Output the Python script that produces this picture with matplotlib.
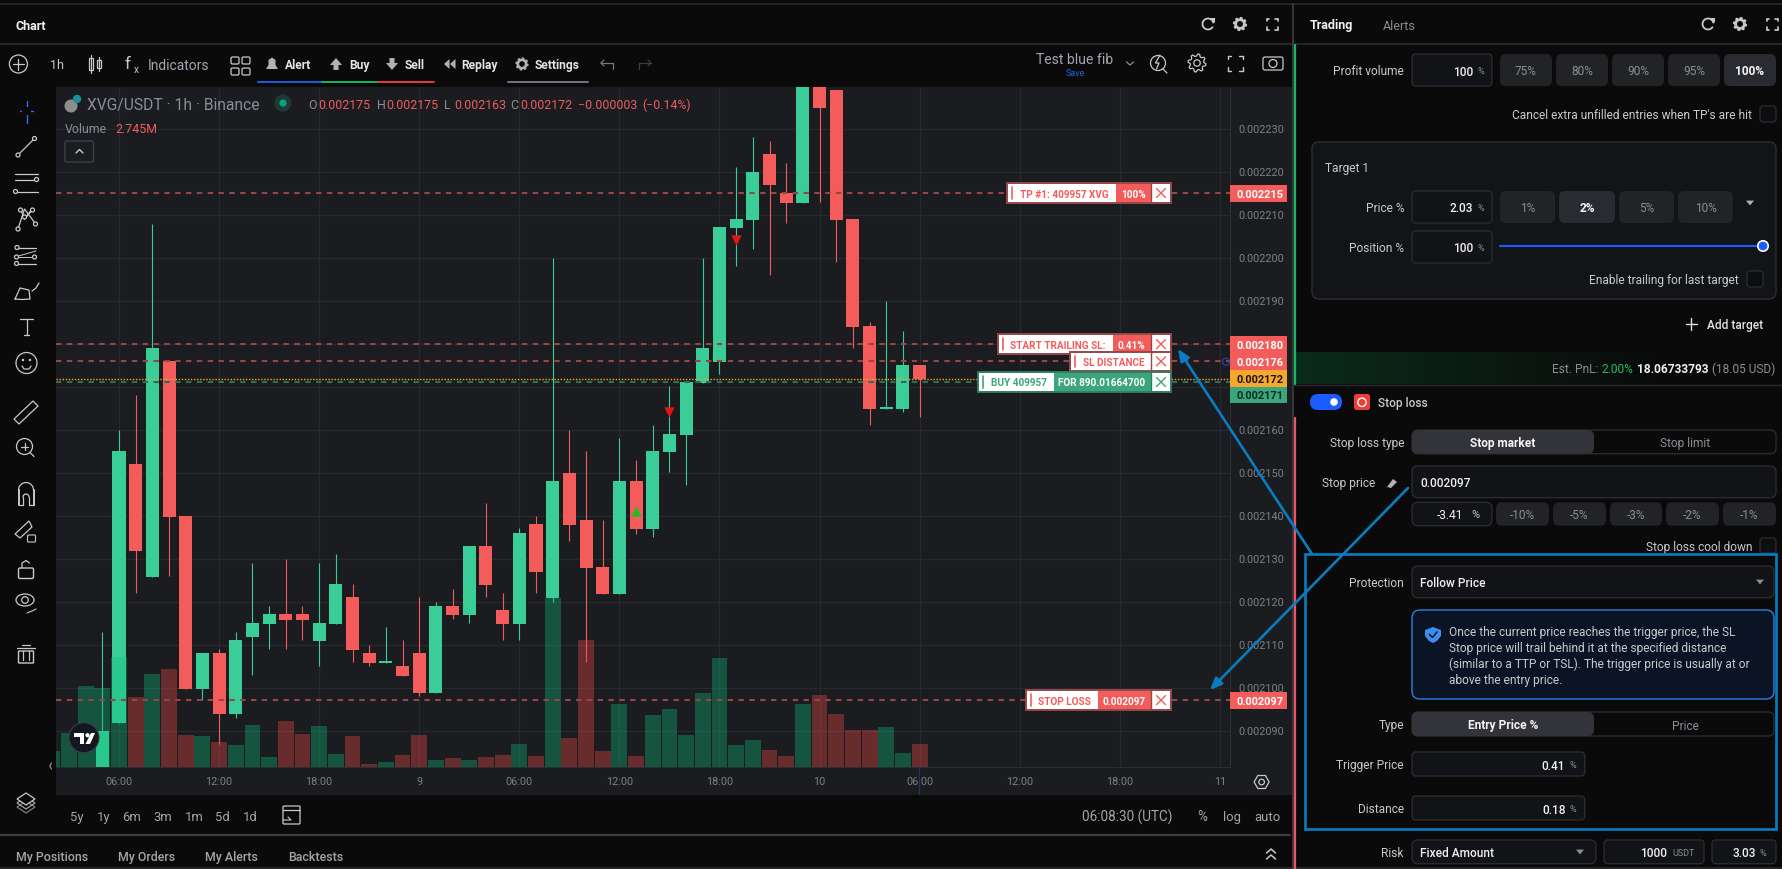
import numpy as np
import matplotlib
matplotlib.use("Agg")
import matplotlib.pyplot as plt
from matplotlib.patches import Rectangle, FancyBboxPatch, Circle, Polygon, Ellipse

plt.rcParams['font.family'] = ['Roboto', 'DejaVu Sans']

W, H = 1782, 869

# prices are in millionths, hours are counted from 06:00 on the 8th
candle_hours = list(range(-1, 49))
opens = [2080, 2092, 2152.2, 2126, 2176.1, 2140, 2099.9, 2108.2, 2094.1, 2112, 2115, 2117.3, 2117.3, 2111, 2115,
         2121.2, 2108.2, 2106, 2105.2, 2108.2, 2098.9, 2119.1, 2117, 2133.1, 2118.2, 2115, 2138.2, 2121, 2150.1,
         2139.1, 2128.2, 2121.9, 2148.2, 2137, 2155, 2159, 2171, 2175.9, 2207, 2208.9, 2224.3, 2215.3, 2212.9,
         2250, 2239.1, 2209.1, 2184.3, 2165, 2165, 2175.2]
highs = [2113.1, 2160.1, 2168.2, 2208.1, 2176.1, 2140, 2108.2, 2109.1, 2113.1, 2129.1, 2119.1, 2130.1, 2119.1,
         2129.1, 2131.2, 2124.3, 2110.1, 2114.3, 2111.2, 2121.2, 2120, 2123.1, 2133.1, 2143.1, 2122.2, 2137.3,
         2140, 2200.1, 2160.1, 2155.2, 2139.1, 2158.2, 2153.1, 2161.2, 2170.2, 2171.2, 2200.1, 2207.3, 2221.2,
         2228.2, 2227.3, 2222.2, 2250, 2255, 2239.1, 2209.1, 2185.2, 2190.1, 2183.1, 2175.2]
lows = [2080, 2092, 2122.2, 2126, 2126.2, 2099.9, 2097.3, 2087, 2093.2, 2103.2, 2109.1, 2109.1, 2111.2, 2105.2,
        2115, 2106.2, 2105.2, 2106, 2102.9, 2098.2, 2098.9, 2116.1, 2115.2, 2121.2, 2111.2, 2111.2, 2122.2,
        2120.1, 2134.3, 2106.1, 2121.9, 2121.9, 2135.9, 2135.3, 2150.2, 2147.3, 2171, 2173.1, 2198.2, 2202.2,
        2196.1, 2208.2, 2212.9, 2213.1, 2199.1, 2179.1, 2161.2, 2165, 2164.3, 2163.1]
closes = [2090.1, 2155.2, 2132, 2179.1, 2139.9, 2099.9, 2108.2, 2094.1, 2111.2, 2115.2, 2117.3, 2116, 2116, 2115.2,
          2124.3, 2108.9, 2105.9, 2106.4, 2102.9, 2098.9, 2119.1, 2117, 2133.1, 2124, 2115, 2136.1, 2127, 2148.2,
          2138, 2128, 2121.9, 2148.2, 2137, 2155.2, 2159.1, 2171.2, 2179.1, 2207.3, 2209.1, 2220.1, 2217, 2212.9,
          2245, 2235, 2208.9, 2184, 2165, 2165.4, 2175.2, 2172]
# first bars are cut off on the left, volume starts a bit earlier
vol_hours = list(range(-4, 49))
volumes = [1.92, 4.0, 9.57, 9.29, 13.02, 8.27, 10.98, 11.57, 3.8, 3.69, 2.98, 2.63, 4.98, 1.22, 5.45, 3.92, 4.86,
           1.57, 3.69, 0.39, 0.63, 1.45, 3.8, 0.86, 1.1, 0.86, 1.22, 1.45, 2.75, 1.33, 19.92, 3.45, 14.98, 1.92,
           7.45, 1.33, 6.16, 6.86, 3.8, 8.74, 12.86, 2.63, 3.21, 2.04, 1.33, 7.45, 8.51, 6.27, 4.39, 4.39, 4.74,
           1.69, 2.745]
vol_up = [True] * 3 + [c >= o for o, c in zip(opens, closes)]

price_ticks = [2090, 2100, 2110, 2120, 2130, 2140, 2150, 2160, 2170, 2180, 2190, 2200, 2210, 2220, 2230]
time_ticks = [0, 6, 12, 18, 24, 30, 36, 42, 48, 54, 60, 66]
time_labels = ['06:00', '12:00', '18:00', '9', '06:00', '12:00', '18:00', '10', '06:00', '12:00', '18:00', '11']

level_red = [2215.2, 2180.1, 2176.1, 2097.3]
level_entry = 2171.2
level_last = 2172.0
sell_marks_x, sell_marks_y = [33, 37], [2164.3, 2204.3]
buy_marks_x, buy_marks_y = [31], [2141.3]

range_btns = ['5y', '1y', '6m', '3m', '1m', '5d', '1d']
range_x = [70, 96.7, 122.4, 153.5, 184.5, 215.5, 243]
tab_names = ['My Positions', 'My Orders', 'My Alerts', 'Backtests']
tab_x = [16, 118, 205, 288.6]

BG = '#0a0a0b'
PANE = '#1a1c20'
GRID = '#25282e'
UP = '#3acd97'
DOWN = '#f45c5c'
LINE_RED = '#964649'
ARROW = '#0a7dc2'
GRAY = '#8b8e95'
LIGHT = '#c9cacd'
SZ = 11.9

fig = plt.figure(figsize=(W / 100, H / 100), dpi=100, facecolor=BG)


def px_rect(x0, y0, x1, y1):
    return [x0 / W, 1 - y1 / H, (x1 - x0) / W, (y1 - y0) / H]


bg = fig.add_axes([0, 0, 1, 1], zorder=0)
bg.set_xlim(0, W)
bg.set_ylim(H, 0)
bg.axis('off')
bg.add_patch(Rectangle((56, 87), 1236, 708, fc=PANE, ec='none'))

# chart pane, scales come from where the ticks sit in the picture
px_per_hour = 16.68
px_per_unit = 4.3
pane = (56, 87, 1230, 767.33)
ax = fig.add_axes(px_rect(*pane), zorder=1)
ax.set_facecolor(PANE)
ax.set_xlim((pane[0] - 119) / px_per_hour, (pane[2] - 119) / px_per_hour)
ax.set_ylim(2230 - (pane[3] - 129.33) / px_per_unit, 2230 + (129.33 - pane[1]) / px_per_unit)

# volume sits on top of the candles
vol = ax.twinx()
vol.set_zorder(ax.get_zorder() + 1)
vol.patch.set_visible(False)
vol.set_ylim(0, (pane[3] - pane[1]) / 8.5)
vol.set_yticks([])
for side in vol.spines:
    vol.spines[side].set_visible(False)

# twinx moves the ticks to the left, so set them after it
ax.yaxis.tick_right()
ax.set_yticks(price_ticks)
ax.set_yticklabels([f'{p / 1e6:.6f}' for p in price_ticks])
ax.set_xticks(time_ticks)
ax.set_xticklabels(time_labels)
ax.tick_params(axis='both', length=0, labelcolor='#7d8087', labelsize=7.8)
ax.tick_params(axis='x', pad=7)
ax.tick_params(axis='y', pad=6)
ax.grid(True, color=GRID, lw=1)
ax.set_axisbelow(True)
for side in ax.spines:
    ax.spines[side].set_visible(False)
ax.spines['right'].set_visible(True)
ax.spines['right'].set_color('#2b2e34')
ax.spines['bottom'].set_visible(True)
ax.spines['bottom'].set_color('#2b2e34')

candle_colors = [UP if c >= o else DOWN for o, c in zip(opens, closes)]
ax.vlines(candle_hours, lows, highs, colors=candle_colors, lw=0.8, zorder=3)
ax.bar(candle_hours, np.abs(np.array(closes) - np.array(opens)), bottom=np.minimum(opens, closes),
       width=0.78, color=candle_colors, zorder=4)
ax.scatter(sell_marks_x, sell_marks_y, marker='v', s=55, color='#e61414', zorder=5, linewidths=0)
ax.scatter(buy_marks_x, buy_marks_y, marker='^', s=55, color='#1fbf1f', zorder=5, linewidths=0)

vol.bar(vol_hours, volumes, width=0.95, alpha=0.35,
        color=['#0cbf79' if u else '#ff4a48' for u in vol_up], zorder=2)
ytrans = ax.get_yaxis_transform()
for lev in level_red:
    vol.plot([0, 1], [lev, lev], transform=ytrans, color=LINE_RED, lw=1.5, ls=(0, (2.6, 2.6)), zorder=3)
vol.plot([0, 1], [level_entry, level_entry], transform=ytrans, color='#2d6e57', lw=1.5, ls=(0, (2.6, 2.6)), zorder=3)
vol.plot([0, 1], [level_last, level_last], transform=ytrans, color='#f7a823', lw=1, ls=(0, (1, 1.2)), zorder=3)

# everything else is drawn in pixels on top
ui = fig.add_axes([0, 0, 1, 1], zorder=5)
ui.set_xlim(0, W)
ui.set_ylim(H, 0)
ui.axis('off')
ui.patch.set_visible(False)


def box(x0, y0, x1, y1, fc=BG, ec='none', r=4, lw=1, z=2):
    if r:
        p = FancyBboxPatch((x0 + r, y0 + r), x1 - x0 - 2 * r, y1 - y0 - 2 * r, boxstyle=f'round,pad={r},rounding_size={r}',
                           fc=fc, ec=ec, lw=lw, zorder=z)
    else:
        p = Rectangle((x0, y0), x1 - x0, y1 - y0, fc=fc, ec=ec, lw=lw, zorder=z)
    ui.add_patch(p)


def txt(x, y, s, c=LIGHT, size=12.5, ha='left', w='normal', z=6):
    ui.text(x, y, s, color=c, fontsize=size * 0.72, ha=ha, va='center_baseline', fontweight=w, zorder=z)


def seg(xs, ys, c='#c8c9cc', lw=0.9, z=5):
    ui.plot(xs, ys, color=c, lw=lw, zorder=z, solid_capstyle='round')


def ring(x, y, r, c='#c8c9cc', lw=0.9, fc='none', z=5):
    ui.add_patch(Circle((x, y), r, fc=fc, ec=c, lw=lw, zorder=z))


def tri_down(x, y, s=4, c=GRAY):
    ui.add_patch(Polygon([[x - s, y - s * 0.6], [x + s, y - s * 0.6], [x, y + s * 0.6]], fc=c, ec='none', zorder=5))


def corners(x, y, s, c='#c8c9cc', lw=1.2, gap=0.45):
    for dx in (-1, 1):
        for dy in (-1, 1):
            seg([x + dx * s, x + dx * s], [y + dy * s, y + dy * s * (1 - gap)], c, lw)
            seg([x + dx * s, x + dx * s * (1 - gap)], [y + dy * s, y + dy * s], c, lw)


def gear(x, y, r, c='#c8c9cc', solid=True):
    # eight teeth, outer and inner radius alternate
    ang = np.linspace(0, 2 * np.pi, 33)[:-1] + np.pi / 32
    rad = np.where(np.arange(32) % 4 < 2, r, r * 0.76)
    ui.add_patch(Polygon(np.c_[x + rad * np.cos(ang), y + rad * np.sin(ang)], closed=True, fc=c if solid else 'none',
                         ec=c, lw=0.9, zorder=5))
    ring(x, y, r * 0.36, BG if solid else c, 0.9, fc=BG if solid else 'none')


def refresh(x, y):
    t = np.linspace(0.25, 1.8 * np.pi, 30)
    seg(x + 5.5 * np.cos(t), y + 5.5 * np.sin(-t), '#c8c9cc', 1.3)
    ui.add_patch(Polygon([[x + 1.5, y - 6.5], [x + 6.5, y - 6.5], [x + 6.5, y - 1.5]], fc='#c8c9cc', ec='none', zorder=5))


# window frame lines
seg([0, W], [4.3, 4.3], '#2a2a2e', 1.2)
seg([0, W], [44.3, 44.3], '#2c2c30', 1.2)
seg([0, 1290], [835, 835], '#3b3b42', 1.6)
seg([0, W], [868, 868], '#2c2c30', 1.2)
seg([1293, 1293], [4, 869], '#37373c', 1.4)
seg([1295, 1295], [45, 385], '#16b85f', 1.6)
seg([1295, 1295], [418, 869], '#ee5468', 1.6)
seg([1293, W], [385, 385], '#2c2c30', 1)

# title row
txt(16, 24.5, 'Chart', '#f2f2f2', 12.5, w='bold')
refresh(1208, 24)
gear(1240, 24, 6.5)
corners(1272, 24, 5.5)
txt(1310, 24.5, 'Trading', '#f2f2f2', 12.5, w='bold')
txt(1383, 24.5, 'Alerts', GRAY, 12.5)
refresh(1708, 24)
gear(1740, 24, 6.5)
corners(1772, 24, 5.5)

# chart toolbar
ring(18.4, 64, 9)
seg([13, 24], [64, 64])
seg([18.4, 18.4], [58.5, 69.5])
txt(50, 64, '1h', '#c8c9cc', 12.5)
ui.add_patch(Rectangle((88.5, 58), 4, 12, fc='none', ec='#c8c9cc', lw=0.9, zorder=5))
ui.add_patch(Rectangle((97, 60), 3.5, 8, fc='none', ec='#c8c9cc', lw=0.9, zorder=5))
seg([90.5, 90.5], [55, 73])
seg([98.7, 98.7], [57, 71])
txt(125, 63, 'f', '#c8c9cc', 17, w='normal')
txt(134, 69, 'x', '#c8c9cc', 10)
txt(148, 64.5, 'Indicators', '#a2a6b0', 13.8)
for gx in (231, 242):
    for gy in (57, 68):
        box(gx, gy, gx + 8, gy + 7, fc='none', ec='#c8c9cc', r=1.5, lw=0.9, z=5)
ui.add_patch(Polygon([[266, 69], [278, 69], [275.5, 65], [275.5, 60], [272, 57.5], [268.5, 60], [268.5, 65]],
                     fc='#b0b2b7', ec='none', zorder=5))
txt(285, 64, 'Alert', '#e4e4e6', 12, w='bold')
ui.add_patch(Polygon([[336, 58], [342, 65], [338.5, 65], [338.5, 70], [333.5, 70], [333.5, 65], [330, 65]],
                     fc='#b0b2b7', ec='none', zorder=5))
txt(349, 64, 'Buy', '#e4e4e6', 12, w='bold')
ui.add_patch(Polygon([[392, 70], [398, 63], [394.5, 63], [394.5, 58], [389.5, 58], [389.5, 63], [386, 63]],
                     fc='#b0b2b7', ec='none', zorder=5))
txt(405, 64, 'Sell', '#e4e4e6', 12, w='bold')
ui.add_patch(Polygon([[444, 64], [449.5, 59], [449.5, 69]], fc='#b0b2b7', ec='none', zorder=5))
ui.add_patch(Polygon([[450, 64], [455.5, 59], [455.5, 69]], fc='#b0b2b7', ec='none', zorder=5))
txt(461.6, 64, 'Replay', '#e4e4e6', 12, w='bold')
gear(522, 64, 6, '#b0b2b7')
txt(535, 64, 'Settings', '#e4e4e6', 12, w='bold')
seg([258, 322], [82, 82], '#1a5fe0', 1.4)
seg([322, 378], [82, 82], '#12b866', 1.4)
seg([378, 434], [82, 82], '#e83a3a', 1.4)
seg([508, 588], [82, 82], '#77777c', 1.4)
seg([601, 613, 613], [63, 63, 69], '#77777c', 0.9)
seg([601, 604], [63, 60], '#77777c', 0.9)
seg([601, 604], [63, 66], '#77777c', 0.9)
seg([651, 639, 639], [63, 63, 69], '#3f3f43', 0.9)
seg([651, 648], [63, 60], '#3f3f43', 0.9)
seg([651, 648], [63, 66], '#3f3f43', 0.9)
txt(1075, 59, 'Test blue fib', '#a2a6ae', 14, ha='center')
txt(1075, 72, 'Save', '#2262e6', 9, ha='center')
seg([1126.5, 1130, 1133.5], [62, 65, 62], GRAY, 0.9)
ring(1158, 63, 7.5)
seg([1163, 1167], [69, 73])
seg([1160, 1155.5, 1159, 1156.5], [55, 63, 63, 69], lw=0.9, z=6)
gear(1197, 63, 9, '#c8c9cc', solid=False)
corners(1235, 63, 7.5, lw=1)
box(1263, 57, 1283, 70, fc='none', ec='#c8c9cc', r=2, lw=0.9, z=5)
ring(1273, 63.5, 4)

# left drawing tools
seg([20, 33], [111, 111], '#2f6bff', 1)
seg([26.5, 26.5], [100.5, 122.5], '#2f6bff', 1)
ui.add_patch(Rectangle((22, 107), 9, 8, fc=BG, ec='none', zorder=5.5))
seg([18, 34.5], [155, 138.5])
ring(18, 155, 2, fc=BG, z=6)
ring(34.5, 138.5, 2, fc=BG, z=6)
for yy in (173.5, 179.5, 191.5):
    seg([15, 37.5], [yy, yy])
ring(36.5, 179.5, 2, fc=BG, z=6)
ring(15.5, 191.5, 2, fc=BG, z=6)
seg([18, 24.5, 32, 35.5], [229, 209, 219, 224])
seg([21, 24.5, 32.5, 24.5], [210, 219, 209, 219])
for px, py in [(18, 229), (20.5, 210), (24.5, 217), (32.5, 210), (35.5, 224)]:
    ring(px, py, 2, fc=BG, z=6)
for yy in (247.5, 263.5):
    seg([15, 36], [yy, yy])
seg([15, 36], [257, 251], lw=0.7)
seg([15, 36], [257, 257], lw=0.7)
for px, py in [(17, 247.5), (16.5, 257), (34.5, 257), (16.5, 263.5)]:
    ring(px, py, 2, fc=BG, z=6)
seg([15, 20, 29, 30, 22, 15], [299, 288, 290, 299, 299.5, 299])
seg([32, 36, 39], [291, 288, 283])
seg([20, 33], [319, 319])
seg([26.5, 26.5], [319, 335])
seg([24, 29], [335, 335])
ring(26.5, 363, 10.5)
seg([22, 24, 29, 31], [366, 369, 369, 366])
ring(23, 360, 0.6, fc='#c8c9cc')
ring(30, 360, 0.6, fc='#c8c9cc')
ui.add_patch(Polygon([[14, 419], [33, 401], [38, 406], [19, 424]], fc='none', ec='#c8c9cc', lw=0.9, zorder=5))
ring(24.5, 446.5, 8)
seg([30, 34], [452.5, 456.5])
seg([21, 28], [446.5, 446.5])
seg([24.5, 24.5], [443, 450])
seg([18.5, 18.5], [504.5, 490], lw=1.4)
seg([33.5, 33.5], [504.5, 490], lw=1.4)
t_m = np.linspace(0, np.pi, 15)
seg(26 + 7.5 * np.cos(t_m), 490 - 7.5 * np.sin(t_m), lw=0.9)
seg(26 + 3 * np.cos(t_m), 497 - 3 * np.sin(t_m), lw=0.9)
seg([18.5, 23, 23], [504.5, 504.5, 497], lw=0.9)
seg([33.5, 29, 29], [504.5, 504.5, 497], lw=0.9)
ui.add_patch(Polygon([[15, 534], [29, 521], [32, 527], [20, 538]], fc='none', ec='#c8c9cc', lw=0.9, zorder=5))
box(27.5, 535, 35.5, 542, fc='none', ec='#c8c9cc', r=1, lw=0.8, z=5)
box(18.5, 568, 33.5, 578.5, fc='none', ec='#c8c9cc', r=1.5, z=5)
seg([22, 22, 26, 29.5], [568, 563, 560.5, 563])
ui.add_patch(Ellipse((25, 600), 18, 12, fc='none', ec='#c8c9cc', lw=0.9, zorder=5))
ring(25, 600, 3.3)
seg([27, 32, 36], [613, 611, 609], lw=0.8)
box(18.5, 651, 33.5, 663, fc='none', ec='#c8c9cc', r=0.8, z=5)
seg([17, 35], [647.5, 647.5])
seg([22, 30], [645, 645])
seg([23, 23], [651, 660])
seg([28.5, 28.5], [651, 660])
for dy, al in zip((808, 804, 800), (0.6, 0.8, 1)):
    ui.add_patch(Polygon([[17, dy - 1], [26, dy - 7], [35, dy - 1], [26, dy + 5]], fc=BG if dy == 800 else 'none',
                         ec='#c8c9cc', lw=0.9, alpha=al, zorder=5))

# legend on top of the pane
ring(71, 106, 6.5, '#9a9a9a', 0, fc='#8e8e8e')
ring(77, 99, 4.2, '#1c8fa0', 0, fc='#1c8fa0')
txt(87, 104, 'XVG/USDT · 1h · Binance', '#8b8e97', 15.6)
ring(283, 103, 8.5, '#1f3a36', 0, fc='#1f3a36')
ring(283, 103, 3.6, '#0aa283', 0, fc='#0aa283')
ohlc_x = [308, 376.5, 444, 510]
ohlc_v = ['0.002175', '0.002175', '0.002163', '0.002172']
for ox, name, val in zip(ohlc_x, 'OHLC', ohlc_v):
    txt(ox, 104, name, '#8b8e97', 12.4)
    txt(ox + 10, 104, val, '#ef5c5e', 12.4)
txt(578.4, 104, '\u22120.000003', '#ef5c5e', 12.4)
txt(642, 104, '(\u22120.14%)', '#ef5c5e', 12.4)
txt(65, 127.7, 'Volume', '#8b8e97', 12.4)
txt(115.5, 127.7, '2.745M', '#ef5c5e', 12.4)
box(65, 141, 93.5, 162, fc=PANE, ec='#3c3f46', r=2)
seg([76, 79.5, 83], [153, 149.5, 153], '#c8c9cc', 1)

# tradingview badge
ring(84, 737.7, 15, '#3a3d46', 0.8, fc='#131722')
ui.add_patch(Polygon([[74, 733], [84, 733], [84, 744], [79.5, 744], [79.5, 737], [74, 737]], fc='white', ec='none', zorder=6))
ring(87.5, 735.2, 2.1, 'white', 0, fc='white', z=6)
ui.add_patch(Polygon([[91, 733], [95, 733], [90, 744], [85.5, 744]], fc='white', ec='none', zorder=6))
seg([51.5, 49.7, 51.5], [763, 766, 769], GRAY, 0.9)

# price scale tags
tags = [(185, 201.7, DOWN, 'white', '0.002215'), (336, 353, DOWN, 'white', '0.002180'),
        (353, 370, DOWN, 'white', '0.002176'), (370, 386.7, '#f5a72e', '#1a1410', '0.002172'),
        (386.7, 402.7, '#3ba67c', '#0b2a1e', '0.002171'), (692, 708.7, DOWN, 'white', '0.002097')]
for y0, y1, fc, tc, s in tags:
    box(1230, y0, 1287, y1, fc=fc, r=0)
    txt(1260, (y0 + y1) / 2 + 0.5, s, tc, 11, ha='center', w='bold')
ring(1226, 361.7, 3.5, '#2244aa', 0.9)
seg([919, 919], [768, 794], '#29335c', 0.9)

# order labels on the chart
order_tags = [
    (182.7, 203.3, 1006.6, 1116, 'TP #1: 409957 XVG', 1064, '100%', 1133, DOWN, LINE_RED),
    (334, 354.3, 997.7, 1113, 'START TRAILING SL:', 1058, '0.41%', 1131.6, DOWN, LINE_RED),
    (351.7, 371, 1069.7, 1151, 'SL DISTANCE', 1113.5, '', 0, DOWN, LINE_RED),
    (372, 392, 977.5, 1054, 'BUY 409957', 1018.8, 'FOR 890.01664700', 1102, '#3ba67c', '#2f7d60'),
    (690, 710.3, 1025.5, 1097.5, 'STOP LOSS', 1064.7, '0.002097', 1124, DOWN, LINE_RED),
]
for y0, y1, x0, xm, label, lx, val, vx, col, edge in order_tags:
    box(x0, y0, 1171, y1, fc='white', ec=edge, r=0, lw=1.4, z=7)
    if val:
        box(xm, y0 + 1, 1151, y1 - 1, fc=col, r=0, z=7)
    seg([x0 + 5, x0 + 5], [y0 + 4, y1 - 4], col, 1.2, z=8)
    seg([1151, 1151], [y0, y1], edge, 1, z=8)
    seg([1156.5, 1165.5], [(y0 + y1) / 2 - 4.5, (y0 + y1) / 2 + 4.5], col, 1, z=8)
    seg([1156.5, 1165.5], [(y0 + y1) / 2 + 4.5, (y0 + y1) / 2 - 4.5], col, 1, z=8)
    txt(lx, (y0 + y1) / 2 + 0.5, label, col, 10, ha='center', w='bold', z=9)
    if val:
        txt(vx, (y0 + y1) / 2 + 0.5, val, 'white', 10, ha='center', w='bold', z=9)

# bottom of the chart
for s, rx in zip(range_btns, range_x):
    txt(rx, 815.7, s, '#a2a6b0', 13)
box(283, 806, 300, 824, fc='none', ec='#c8c9cc', r=1, lw=0.9, z=5)
seg([283, 300], [810, 810], lw=0.9)
seg([283, 291, 288], [820, 820, 817], lw=0.8)
txt(1081.5, 815.7, '06:08:30 (UTC)', '#a2a6b0', 13.5)
txt(1197.7, 815.7, '%', '#a2a6b0', 13.5)
txt(1223, 815.7, 'log', '#a2a6b0', 13)
txt(1254, 815.7, 'auto', '#a2a6b0', 13)
ang = np.linspace(0, 2 * np.pi, 7)[:-1] + np.pi / 6
ui.add_patch(Polygon(np.c_[1261.6 + 7.5 * np.cos(ang + np.pi / 6), 782 + 7.5 * np.sin(ang + np.pi / 6)], fc='none',
                     ec='#c8c9cc', lw=0.9, zorder=5))
ring(1261.6, 782, 2.8)
for s, tx in zip(tab_names, tab_x):
    txt(tx, 855.7, s, '#a4a6ab', 12.4, w='medium')
seg([1266.5, 1271, 1275.5], [853, 849, 853], '#c8c9cc', 1.1)
seg([1266.5, 1271, 1275.5], [859, 855, 859], '#c8c9cc', 1.1)

# right panel: targets
INPUT = '#121317'
EDGE = '#2a2b30'
BTN = '#222327'


def field(x0, y0, x1, y1, val, vx, unit='%', ux=None):
    box(x0, y0, x1, y1, fc=INPUT, ec=EDGE)
    txt(vx, (y0 + y1) / 2 + 0.5, val, '#f0f0f0', SZ, ha='right', w='medium')
    if unit:
        txt(ux if ux else vx + 4, (y0 + y1) / 2 + 0.5, unit, GRAY, 9)


def check(x0, y0, x1, y1):
    box(x0, y0, x1, y1, fc='#0d0e10', ec='#2a2b30', r=3)


txt(1404, 69.7, 'Profit volume', LIGHT, SZ, ha='right')
field(1412, 54, 1492, 86, '100', 1473)
for (x0, x1), s in zip([(1500, 1552), (1556, 1608), (1612, 1664), (1668, 1720), (1724, 1776)],
                       ['75%', '80%', '90%', '95%', '100%']):
    on = s == '100%'
    box(x0, 54, x1, 86, fc='#2a2b30' if on else BTN, r=6)
    txt((x0 + x1) / 2, 70, s, '#f5f5f5' if on else GRAY, SZ, ha='center', w='bold' if on else 'normal')
txt(1752, 113.7, "Cancel extra unfilled entries when TP's are hit", LIGHT, SZ, ha='right')
check(1760, 106, 1776, 122)

box(1312, 142, 1776, 299, fc='#131418', ec='#2d2e33', r=7)
txt(1325, 166.7, 'Target 1', LIGHT, SZ)
txt(1404, 206.7, 'Price %', LIGHT, SZ, ha='right')
field(1412, 191, 1492, 223, '2.03', 1473)
for (x0, x1), s in zip([(1500, 1555), (1559, 1615), (1619, 1674), (1678, 1733)], ['1%', '2%', '5%', '10%']):
    on = s == '2%'
    box(x0, 191, x1, 223, fc='#2a2b30' if on else BTN, r=6)
    txt((x0 + x1) / 2, 207, s, '#f5f5f5' if on else GRAY, SZ, ha='center', w='bold' if on else 'normal')
tri_down(1750, 203, 4, '#b0b2b7')
txt(1404, 246.7, 'Position %', LIGHT, SZ, ha='right')
field(1412, 231, 1492, 263, '100', 1473)
seg([1500, 1763], [246, 246], '#1a5cff', 1.5)
ring(1763, 246, 5.2, 'white', 1.2, fc='#1a5cff')
txt(1739, 278.7, 'Enable trailing for last target', LIGHT, SZ, ha='right')
check(1747, 271, 1763, 287)
seg([1691, 1691], [318, 329.5], '#e0e0e0', 1)
seg([1685.5, 1696.5], [323.7, 323.7], '#e0e0e0', 1)
txt(1707, 323.7, 'Add target', '#e4e4e6', SZ, w='medium')

# green fade under the targets
fade = np.zeros((1, 200, 4))
fade[..., :3] = (0.04, 0.17, 0.10)
fade[..., 3] = np.clip(np.linspace(1, -0.3, 200), 0, 1)
ui.imshow(fade, extent=(1296, 1776, 384, 352), aspect='auto', zorder=1)
ui.set_xlim(0, W)
ui.set_ylim(H, 0)
txt(1552, 367.7, 'Est. PnL:', GRAY, SZ)
txt(1602, 367.7, '2.00%', '#1ec25f', SZ)
txt(1637, 367.7, '18.06733793', '#f0f0f0', SZ, w='bold')
txt(1712, 367.7, '(18.05 USD)', GRAY, SZ)

# right panel: stop loss
box(1310, 394, 1342, 410, fc='#1a5cff', r=8)
ring(1334, 402, 3.8, 'white', 0, fc='white', z=6)
box(1354, 394, 1370, 410, fc='#ee3d3d', r=2.5)
ring(1362, 402.3, 4.2, 'white', 1, z=6)
txt(1378, 401.7, 'Stop loss', LIGHT, SZ, w='medium')


def toggle(y0, y1, left, right):
    box(1412, y0, 1776 if y1 < 500 else 1774, y1, fc=BG, ec=EDGE, r=6)
    box(1412, y0, 1594, y1, fc='#33343a', r=6)
    txt(1503, (y0 + y1) / 2 + 0.5, left, '#f5f5f5', SZ, ha='center', w='bold')
    txt(1685, (y0 + y1) / 2 + 0.5, right, GRAY, SZ, ha='center')


txt(1404, 441.7, 'Stop loss type', LIGHT, SZ, ha='right')
toggle(430, 453.7, 'Stop market', 'Stop limit')
txt(1322, 481.7, 'Stop price', LIGHT, SZ)
ui.add_patch(Polygon([[1387, 487], [1393, 479], [1397, 482], [1391, 488]], fc='#b0b2b7', ec='none', zorder=5))
box(1412, 466, 1776, 497.7, fc=INPUT, ec=EDGE, r=6)
txt(1420, 482, '0.002097', '#f0f0f0', SZ, w='medium')
box(1412, 502.3, 1492, 525.7, fc=INPUT, ec=EDGE, r=6)
txt(1463, 514.3, '-3.41', '#f0f0f0', SZ, ha='right')
txt(1471, 514.3, '%', LIGHT, 11)
for (x0, x1), s in zip([(1496, 1549), (1553, 1606), (1610, 1662), (1666, 1719), (1723, 1776)],
                       ['-10%', '-5%', '-3%', '-2%', '-1%']):
    box(x0, 502.3, x1, 525.7, fc=BTN, r=6)
    txt((x0 + x1) / 2, 514.3, s, GRAY, SZ, ha='center')
txt(1752, 545.7, 'Stop loss cool down', LIGHT, SZ, ha='right')
check(1760, 538, 1776, 553)

txt(1404, 581.7, 'Protection', LIGHT, SZ, ha='right')
box(1412, 566, 1774, 597.7, fc=INPUT, ec=EDGE, r=6)
txt(1420, 582, 'Follow Price', '#f0f0f0', SZ, w='medium')
tri_down(1760, 582, 4)
box(1412, 610, 1774, 699, fc='#0a1424', ec='#2e7fe0', r=8)
ui.add_patch(Polygon([[1433, 627], [1441, 630], [1441, 636], [1437, 641], [1433, 643], [1429, 641], [1425, 636], [1425, 630]],
                     fc='#3f8cf0', ec='none', zorder=5))
seg([1429.5, 1432.5, 1437], [634.5, 637.5, 632], '#0a1424', 1.1, z=6)
info_lines = ['Once the current price reaches the trigger price, the SL',
              'Stop price will trail behind it at the specified distance',
              '(similar to a TTP or TSL). The trigger price is usually at or',
              'above the entry price.']
for s, yy in zip(info_lines, [630.7, 646.7, 662.7, 678.7]):
    txt(1449, yy, s, LIGHT, SZ)
txt(1404, 723.7, 'Type', LIGHT, SZ, ha='right')
toggle(712, 736, 'Entry Price %', 'Price')
txt(1404, 763.7, 'Trigger Price', LIGHT, SZ, ha='right')
field(1412, 752, 1584.7, 776, '0.41', 1565)
txt(1404, 807.7, 'Distance', LIGHT, SZ, ha='right')
field(1412, 796, 1584.7, 820, '0.18', 1566)
txt(1404, 851.7, 'Risk', LIGHT, SZ, ha='right')
box(1412, 840, 1596, 863.7, fc=INPUT, ec=EDGE, r=6)
txt(1420, 852, 'Fixed Amount', '#f0f0f0', SZ, w='medium')
tri_down(1580, 852, 4)
field(1604, 840, 1704, 863.7, '1000', 1667, 'USDT', 1672)
field(1712, 840, 1776, 863.7, '3.03', 1756)

# blue annotation frame and arrows
ui.add_patch(Rectangle((1305, 554), 471, 275, fc='none', ec=ARROW, lw=1.9, zorder=10))
for start, tip in [((1312, 554), (1178, 349)), ((1408, 488), (1210, 690))]:
    ui.annotate('', xy=tip, xytext=start,
                arrowprops=dict(arrowstyle='-|>,head_length=0.7,head_width=0.3', color=ARROW, lw=1.9,
                                shrinkA=0, shrinkB=0), zorder=10)

fig.savefig('out.png', dpi=100, facecolor=BG)
